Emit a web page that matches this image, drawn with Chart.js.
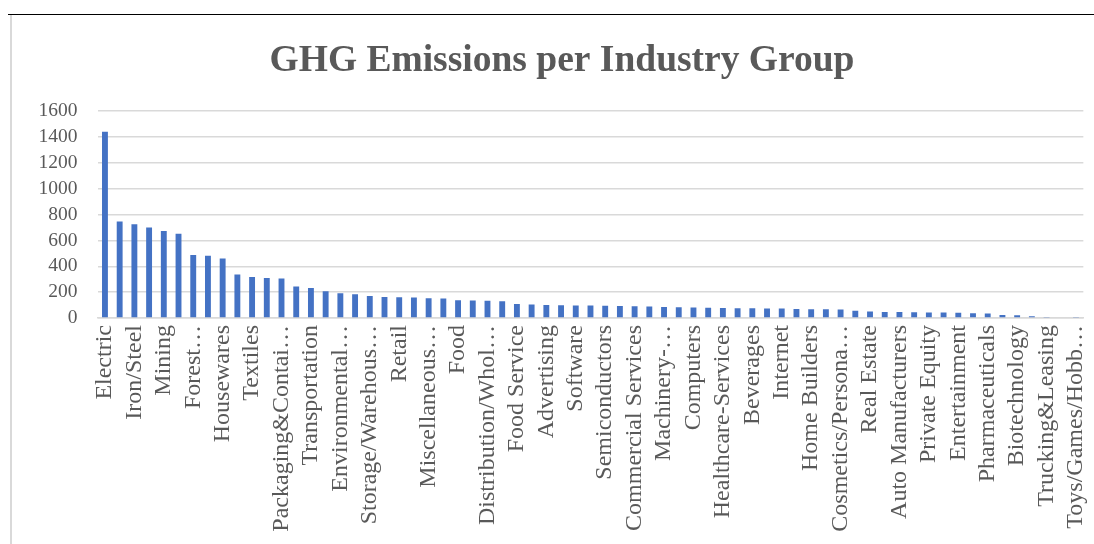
<!DOCTYPE html>
<html>
<head>
<meta charset="utf-8">
<script src="https://cdn.jsdelivr.net/npm/chart.js@4.4.0/dist/chart.umd.min.js"></script>
<style>
  html, body { margin: 0; padding: 0; background: #fff; overflow: hidden; }
  #rule { position: absolute; left: 8px; top: 14px; width: 1094px; height: 0; border-top: 1.5px solid #000; }
  #box { position: absolute; left: 10px; top: 15px; width: 1100px; height: 529px; border-left: 2px solid #d9d9d9; }
</style>
</head>
<body>
<div id="rule"></div>
<div id="box"><canvas id="chart"></canvas></div>
<script>
"use strict";

// categories, every other one is labelled on the axis
const categories = [
    'Electric', '', 'Iron/Steel', '', 'Mining', '', 'Forest…', '', 'Housewares', '',
    'Textiles', '', 'Packaging&Contai…', '', 'Transportation', '', 'Environmental…', '',
    'Storage/Warehous…', '', 'Retail', '', 'Miscellaneous…', '', 'Food', '',
    'Distribution/Whol…', '', 'Food Service', '', 'Advertising', '', 'Software', '',
    'Semiconductors', '', 'Commercial Services', '', 'Machinery-…', '', 'Computers', '',
    'Healthcare-Services', '', 'Beverages', '', 'Internet', '', 'Home Builders', '',
    'Cosmetics/Persona…', '', 'Real Estate', '', 'Auto Manufacturers', '', 'Private Equity', '',
    'Entertainment', '', 'Pharmaceuticals', '', 'Biotechnology', '', 'Trucking&Leasing', '',
    'Toys/Games/Hobb…'
];

const emissions = [
    1440, 745, 725, 700, 672, 652, 487, 482, 460, 337,
    317, 310, 305, 243, 232, 206, 191, 183, 170, 162,
    160, 159, 152, 150, 137, 136, 134, 129, 108, 105,
    100, 98, 97, 96, 95, 93, 90, 89, 85, 83,
    81, 80, 77, 76, 75, 74, 73, 70, 68, 67,
    65, 57, 50, 47, 46, 44, 43, 42, 41, 36,
    35, 23, 21, 13, 8, 5, 3
];

const yTicks = [0, 200, 400, 600, 800, 1000, 1200, 1400, 1600];

const serif = "'Times New Roman', 'Liberation Serif', serif";
const grey = '#595959';

const ctx = document.getElementById('chart');
ctx.width = 1100;
ctx.height = 529;

new Chart(ctx, {
    type: 'bar',
    data: {
        labels: categories,
        datasets: [{
            label: 'GHG Emissions',
            data: emissions,
            backgroundColor: '#4472C4',
            barPercentage: 0.4,
            categoryPercentage: 1.0
        }]
    },
    options: {
        responsive: false,
        animation: false,
        plugins: {
            legend: { display: false },
            tooltip: { enabled: false },
            title: {
                display: true,
                text: 'GHG Emissions per Industry Group',
                color: grey,
                font: { family: serif, size: 37.5, weight: 'bold' },
                padding: { top: 24, bottom: 27 }
            }
        },
        scales: {
            x: {
                grid: { display: false, drawTicks: false },
                border: { display: true, color: '#d9d9d9', width: 1.5 },
                ticks: {
                    autoSkip: false,
                    maxRotation: 90,
                    minRotation: 90,
                    padding: 7,
                    color: grey,
                    font: { family: serif, size: 24 }
                },
                afterFit: function(scale) { scale.height = 226; }
            },
            y: {
                min: 0,
                max: 1600,
                afterBuildTicks: function(scale) {
                    scale.ticks = yTicks.map(v => ({ value: v }));
                },
                grid: { color: '#d9d9d9', lineWidth: 1.5, drawTicks: false },
                border: { display: false },
                ticks: {
                    autoSkip: false,
                    padding: 20,
                    color: grey,
                    font: { family: serif, size: 19.5 },
                    callback: function(value) { return String(value); }
                },
                afterFit: function(scale) { scale.width = 85.6; }
            },
            // empty right-hand margin so the title stays centred on the whole box
            spacer: {
                type: 'linear',
                position: 'right',
                grid: { display: false, drawTicks: false },
                border: { display: false },
                ticks: { display: false },
                afterFit: function(scale) { scale.width = 27.6; }
            }
        }
    }
});
</script>
</body>
</html>
